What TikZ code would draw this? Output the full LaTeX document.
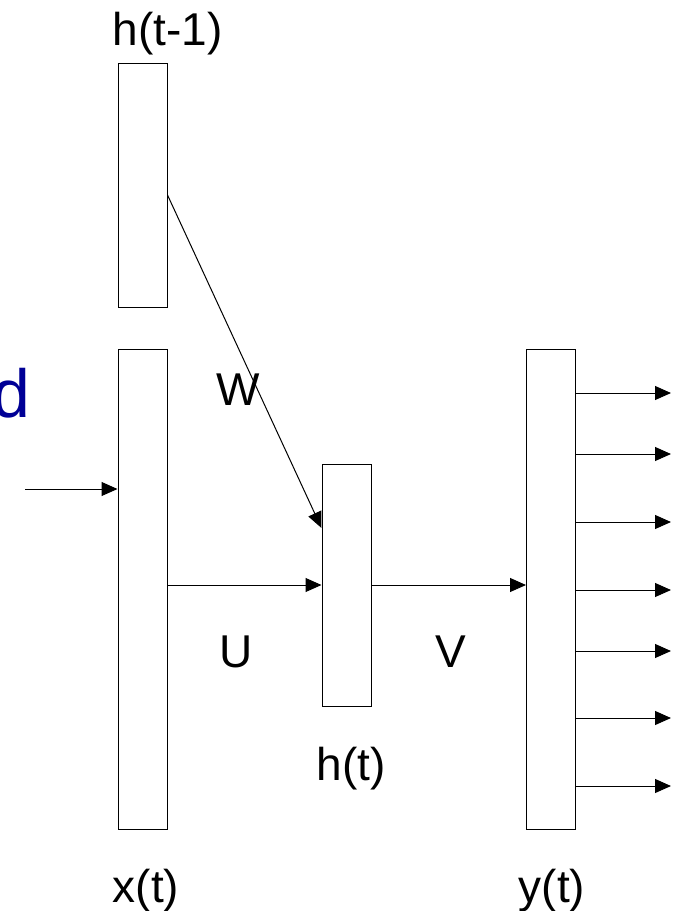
\documentclass[tikz,border=0pt]{standalone}
\usepackage{fontspec}
\setmainfont{Liberation Sans}
\usetikzlibrary{arrows.meta}
\definecolor{navy}{RGB}{0,0,150}
\begin{document}
\begin{tikzpicture}[x=1pt,y=-1pt,
  layer/.style={draw,line width=1pt,rectangle,inner sep=0pt,minimum width=49pt},
  lbl/.style={inner sep=0pt,anchor=base,font=\fontsize{46}{50}\selectfont},
  conn/.style={line width=1pt,-{Triangle[length=16pt,width=14pt]}}]
\useasboundingbox (0,0) rectangle (676,911);
% boxes
\node[layer,minimum height=244pt] (hprev) at (142.5,185) {};
\node[layer,minimum height=480pt] (xt) at (142.5,589) {};
\node[layer,minimum height=242pt] (ht) at (346.5,585) {};
\node[layer,minimum height=480pt] (yt) at (551,589) {};
% labels
\node[lbl] (lhprev) at (167.5,45) {h(t-1)};
\node[lbl] (lW) at (238,405) {W};
\node[lbl] (lU) at (236,667) {U};
\node[lbl] (lV) at (451,667) {V};
\node[lbl] (lht) at (351,780) {h(t)};
\node[lbl] (lxt) at (146,902) {x(t)};
\node[lbl] (lyt) at (552,902) {y(t)};
\node[inner sep=0pt,anchor=base east,text=navy,font=\fontsize{68}{72}\selectfont] (ld) at (31,417) {d};
% connectors
\coordinate (in) at (25,489);
\draw[conn] (in) -- (xt.west |- in);
\draw[conn] ([yshift=-10pt]hprev.east) -- ([yshift=57pt]ht.west);
\draw[conn] (xt.east |- ht.west) -- (ht.west);
\draw[conn] (ht.east) -- (yt.west |- ht.east);
\foreach \i/\y in {1/393,2/454,3/522,4/590,5/651,6/718,7/786}{
  \coordinate (o\i) at (671,\y);
  \draw[conn] (yt.east |- o\i) -- (o\i);
}
\end{tikzpicture}
\end{document}
